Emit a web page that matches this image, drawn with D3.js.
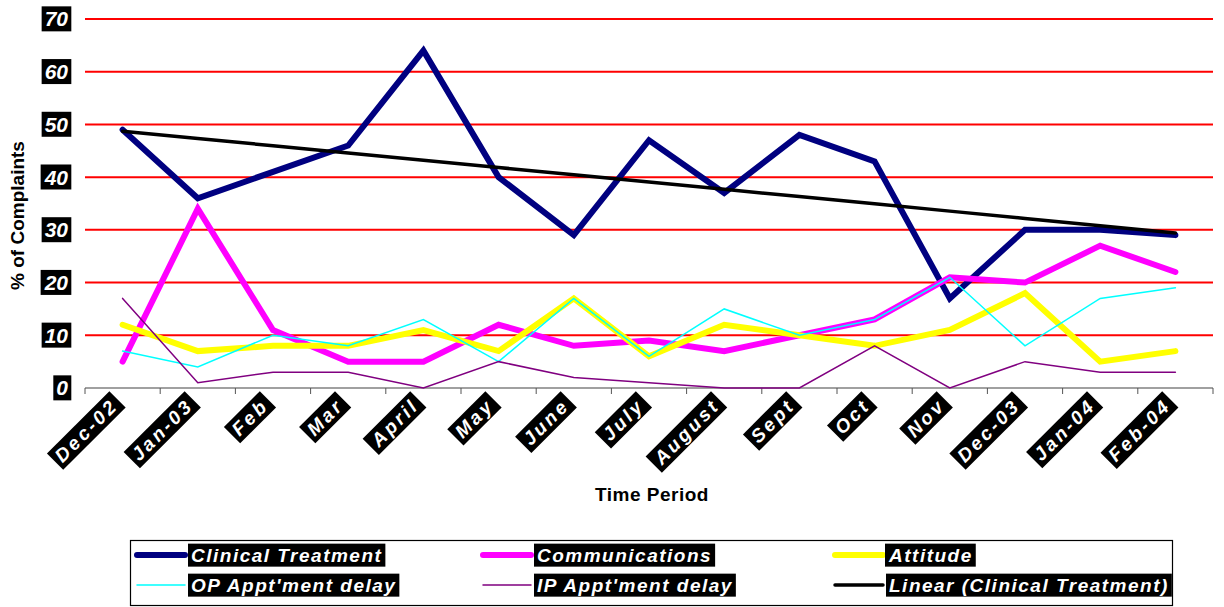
<!DOCTYPE html>
<html>
<head>
<meta charset="utf-8">
<script src="https://cdn.jsdelivr.net/npm/d3@7"></script>
<style>
  body { margin: 0; background: #fff; }
  svg { display: block; font-family: "Liberation Sans", Arial, sans-serif; }
</style>
</head>
<body>
<div class="wrapper"></div>
<script>
const months = ["Dec-02", "Jan-03", "Feb", "Mar", "April", "May", "June", "July",
    "August", "Sept", "Oct", "Nov", "Dec-03", "Jan-04", "Feb-04"];

const clinical = [49, 36, 41, 46, 64, 40, 29, 47, 37, 48, 43, 17, 30, 30, 29];
const communications = [5, 34, 11, 5, 5, 12, 8, 9, 7, 10, 13, 21, 20, 27, 22];
const attitude = [12, 7, 8, 8, 11, 7, 17, 6, 12, 10, 8, 11, 18, 5, 7];
const opDelay = [7, 4, 10, 8, 13, 5, 17, 6, 15, 10, 13, 21, 8, 17, 19];
const ipDelay = [17, 1, 3, 3, 0, 5, 2, 1, 0, 0, 8, 0, 5, 3, 3];

const yTicks = [0, 10, 20, 30, 40, 50, 60, 70];

const width = 1224, height = 607;
const plot = {left: 85, right: 1213, top: 19, bottom: 388};

const svg = d3.select(".wrapper").append("svg")
    .attr("width", width)
    .attr("height", height);

const x = d3.scaleBand().domain(months).range([plot.left, plot.right]);
const y = d3.scaleLinear().domain([0, 70]).range([plot.bottom, plot.top]);
const cx = d => x(d) + x.bandwidth() / 2;

// red gridlines
svg.append("g").selectAll("line")
    .data(yTicks.filter(t => t > 0))
    .enter().append("line")
    .attr("x1", plot.left).attr("x2", plot.right)
    .attr("y1", d => y(d)).attr("y2", d => y(d))
    .attr("stroke", "#ff0000")
    .attr("stroke-width", 2);

// x axis with ticks between categories
const xAxis = svg.append("g");
xAxis.append("line")
    .attr("x1", plot.left).attr("x2", plot.right)
    .attr("y1", plot.bottom).attr("y2", plot.bottom)
    .attr("stroke", "#808080").attr("stroke-width", 1.5);
xAxis.selectAll("line.tick")
    .data(months.map(m => x(m)).concat([plot.right]))
    .enter().append("line")
    .attr("class", "tick")
    .attr("x1", d => d).attr("x2", d => d)
    .attr("y1", plot.bottom).attr("y2", plot.bottom + 6)
    .attr("stroke", "#555").attr("stroke-width", 1);

// label with black box behind white text
function boxLabel(g, txt, opts) {
    const t = g.append("text")
        .attr("fill", "#fff")
        .attr("font-weight", "bold")
        .attr("font-style", "italic")
        .attr("font-size", opts.size)
        .attr("letter-spacing", opts.spacing || 0)
        .attr("text-anchor", opts.anchor || "start")
        .attr("dy", "0.35em")
        .text(txt);
    const b = t.node().getBBox();
    g.insert("rect", "text")
        .attr("x", b.x - opts.padX)
        .attr("y", b.y - opts.padY)
        .attr("width", b.width + opts.padX * 2)
        .attr("height", b.height + opts.padY * 2)
        .attr("fill", "#000");
    return g;
}

// y tick labels
yTicks.forEach(t => {
    const g = svg.append("g").attr("transform", `translate(68,${y(t)})`);
    boxLabel(g, t, {size: 21, anchor: "end", padX: 3, padY: 1});
});

// x tick labels, rotated
months.forEach(m => {
    const g = svg.append("g")
        .attr("transform", `translate(${cx(m) - 8},${plot.bottom + 14}) rotate(-45)`);
    boxLabel(g, m, {size: 19, anchor: "end", spacing: 3, padX: 4, padY: 1});
});

// axis titles
svg.append("text")
    .attr("transform", `translate(24,${(plot.top + plot.bottom) / 2 + 12}) rotate(-90)`)
    .attr("text-anchor", "middle")
    .attr("font-weight", "bold")
    .attr("font-size", 19)
    .text("% of Complaints");

svg.append("text")
    .attr("x", 652).attr("y", 501)
    .attr("text-anchor", "middle")
    .attr("font-weight", "bold")
    .attr("font-size", 19)
    .attr("letter-spacing", 0.5)
    .text("Time Period");

// trend line (least squares of clinical treatment)
const n = clinical.length;
const xm = d3.mean(d3.range(n));
const ym = d3.mean(clinical);
const slope = d3.sum(clinical, (v, i) => (i - xm) * (v - ym)) / d3.sum(d3.range(n), i => (i - xm) ** 2);
const trend = d3.range(n).map(i => ym + slope * (i - xm));

const series = [
    {name: "Clinical Treatment", values: clinical, color: "#000080", w: 6},
    {name: "Communications", values: communications, color: "#ff00ff", w: 6},
    {name: "Attitude", values: attitude, color: "#ffff00", w: 6},
    {name: "OP Appt'ment delay", values: opDelay, color: "#00ffff", w: 1.5},
    {name: "IP Appt'ment delay", values: ipDelay, color: "#800080", w: 1.5},
    {name: "Linear (Clinical Treatment)", values: trend, color: "#000000", w: 3.5}
];

const line = d3.line()
    .x((d, i) => cx(months[i]))
    .y(d => y(d));

svg.append("g").selectAll("path")
    .data(series)
    .enter().append("path")
    .attr("d", d => line(d.values))
    .attr("fill", "none")
    .attr("stroke", d => d.color)
    .attr("stroke-width", d => d.w)
    .attr("stroke-linejoin", "miter")
    .attr("stroke-linecap", "round");

// legend
const legend = svg.append("g");
legend.append("rect")
    .attr("x", 130.5).attr("y", 540.5)
    .attr("width", 1042).attr("height", 65)
    .attr("fill", "#fff")
    .attr("stroke", "#000").attr("stroke-width", 1.2);

const colX = [137, 483, 835];
const rowY = [555, 585];
series.forEach((s, i) => {
    const lx = colX[i % 3], ly = rowY[Math.floor(i / 3)];
    const g = legend.append("g");
    g.append("line")
        .attr("x1", lx).attr("x2", lx + 48)
        .attr("y1", ly).attr("y2", ly)
        .attr("stroke", s.color)
        .attr("stroke-width", s.w)
        .attr("stroke-linecap", "round");
    const tg = g.append("g").attr("transform", `translate(${lx + 54},${ly})`);
    boxLabel(tg, s.name, {size: 19, spacing: 1.5, padX: 3, padY: 1});
});
</script>
</body>
</html>
